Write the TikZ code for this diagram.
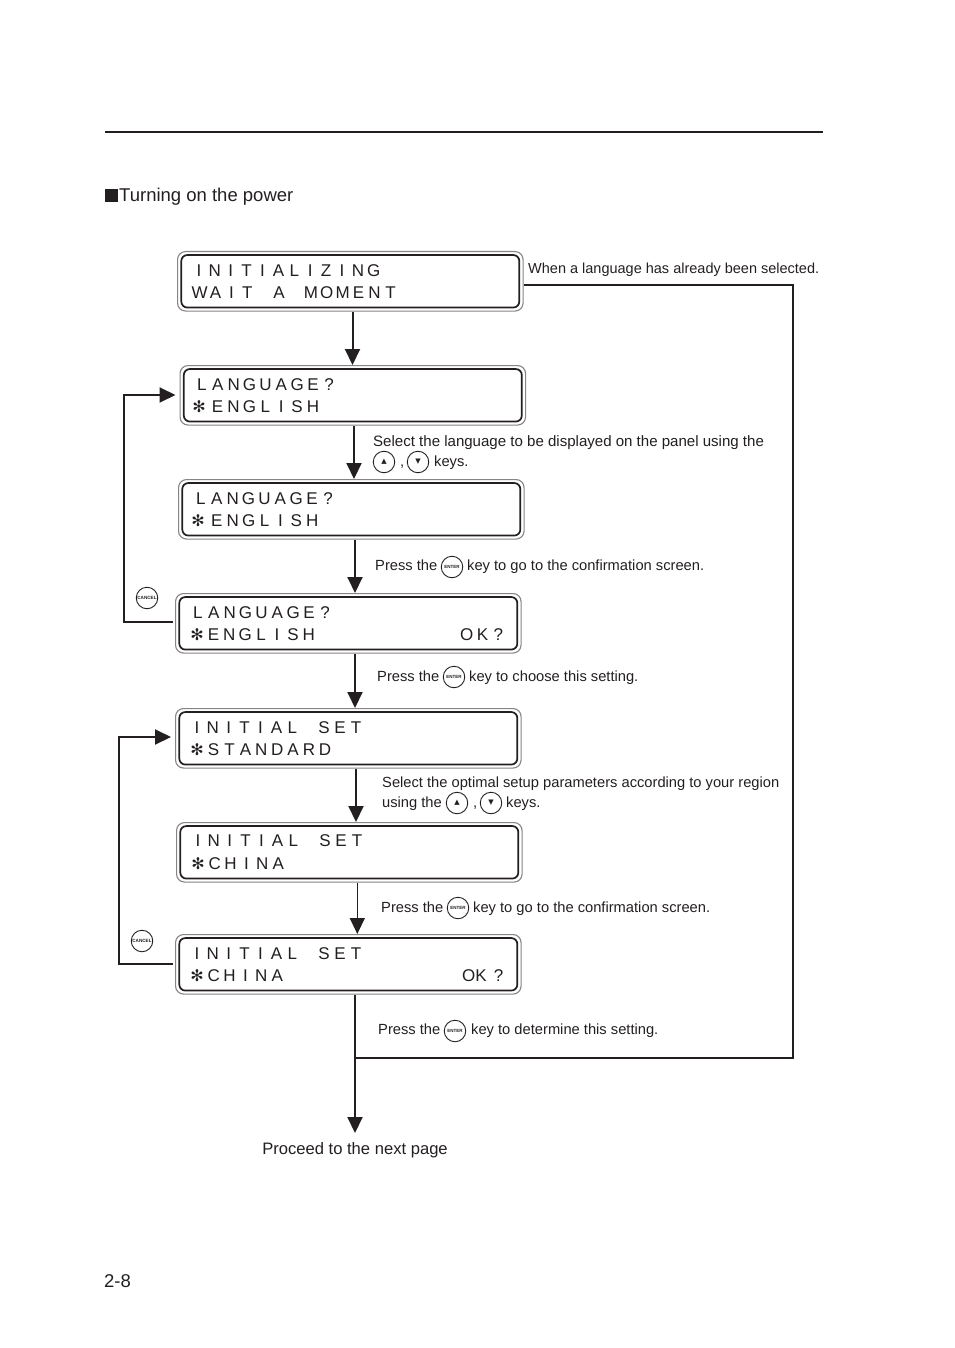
\documentclass[tikz,border=0pt]{standalone}
\usepackage{fontspec}
\setmainfont{Liberation Sans}
\newfontfamily\symfont{DejaVu Sans}
\usetikzlibrary{arrows.meta}
\definecolor{ink}{HTML}{231F20}
\def\lcdpitch{15.9pt}
\def\lcdchars#1{\ifx#1\relax\else\makebox[\lcdpitch]{#1}\expandafter\lcdchars\fi}
\tikzset{
  lcdouter/.style={draw=ink!55,line width=1.1pt,rounded corners=8pt,fill=white,
    minimum height=59.5pt,inner sep=0pt,anchor=north west},
  lcdinner/.style={draw=ink,line width=1.7pt,rounded corners=6pt,
    minimum height=52.5pt,inner sep=0pt},
  lcdtext/.style={font=\fontsize{17pt}{20pt}\selectfont,text=ink,anchor=base west,inner sep=0pt},
  lcdstar/.style={font=\symfont\fontsize{16pt}{18pt}\selectfont,text=ink,inner sep=0pt},
  note/.style={font=\fontsize{14.7pt}{17pt}\selectfont,text=ink,anchor=base west,inner sep=0pt},
  bigtext/.style={font=\fontsize{18.5pt}{20pt}\selectfont,text=ink,anchor=base west,inner sep=0pt},
  keybtn/.style={circle,draw=ink,line width=0.9pt,minimum size=21.5pt,inner sep=0pt,text=ink,fill=white},
  flow/.style={draw=ink,line width=2pt,-{Triangle[length=16pt,width=15pt]}},
  wire/.style={draw=ink,line width=2pt},
}
\begin{document}
\begin{tikzpicture}[x=1pt,y=-1pt]
  \useasboundingbox (0,0) rectangle (954,1348);
  % page furniture
  \coordinate (ruleL) at (105,132);
  \coordinate (ruleR) at (823,132);
  \draw[wire] (ruleL) -- (ruleR);
  \node[fill=ink,inner sep=0pt,minimum size=13pt] (bullet) at (111.5,195.5) {};
  \node[bigtext] (title) at (119,202) {Turning on the power};
  \node[bigtext] (pageno) at (104,1287) {2-8};
  % panels
  \foreach \pname/\px/\py in {p1/177/251,p2/179.5/365,p3/178/479,p4/175/593,p5/175/708,p6/176/822,p7/175/934}{%
    \node[lcdouter,minimum width=345.5pt] (\pname) at (\px,\py) {};
    \node[lcdinner,minimum width=338pt] (\pname in) at (\pname.center) {};
  }
  % panel texts
  \foreach \lname/\lx/\ly/\ltext in {%
    p1a/190.8/276.5/INITIALIZING,p1b/191.5/298.5/WAIT~A~MOMENT,
    p2a/193.7/390.5/LANGUAGE?,p2b/209.5/412.5/ENGLISH,
    p3a/192.7/504.5/LANGUAGE?,p3b/208.7/526.5/ENGLISH,
    p4a/189.7/618.5/LANGUAGE?,p4b/205.3/640.5/ENGLISH,p4c/458.5/640.5/OK?,
    p5a/188.8/733.5/INITIAL~SET,p5b/205.5/755.5/STANDARD,
    p6a/189.8/846.5/INITIAL~SET,p6b/206.5/869.5/CHINA,
    p7a/188.8/959.5/INITIAL~SET,p7b/205.5/981.5/CHINA}{%
    \node[lcdtext] (\lname) at (\lx,\ly) {\expandafter\lcdchars\ltext\relax};
  }
  \node[lcdtext] (p7c) at (462,981.5) {OK\hspace{7pt}?};
  \foreach \sname/\sx/\sy in {s2/199/407,s3/198/521,s4/197/635,s5/197/750,s6/198/864,s7/197/976}{%
    \node[lcdstar] (\sname) at (\sx,\sy) {✻};
  }
  % notes
  \node[note,font=\fontsize{14.5pt}{17pt}\selectfont] (nwhen) at (528,273) {When a language has already been selected.};
  \node[note,font=\fontsize{15.05pt}{17pt}\selectfont] (nsel) at (373,446) {Select the language to be displayed on the panel using the};
  \node[note] (ncomA) at (400,466) {,};
  \node[note] (nkeysA) at (434,466) {keys.};
  \node[note] (npressA) at (375,570) {Press the};
  \node[note] (nconfA) at (467,570) {key to go to the confirmation screen.};
  \node[note] (npressB) at (377,681) {Press the};
  \node[note] (nchoose) at (469,681) {key to choose this setting.};
  \node[note] (nopt) at (382,787) {Select the optimal setup parameters according to your region};
  \node[note] (nusing) at (382,807) {using the};
  \node[note] (ncomB) at (473,807) {,};
  \node[note] (nkeysB) at (506,807) {keys.};
  \node[note] (npressC) at (381,912) {Press the};
  \node[note] (nconfB) at (473,912) {key to go to the confirmation screen.};
  \node[note] (npressD) at (378,1034) {Press the};
  \node[note] (ndet) at (471,1034) {key to determine this setting.};
  \node[font=\fontsize{16.6pt}{20pt}\selectfont,text=ink,anchor=base,inner sep=0pt] (proceed) at (355,1154) {Proceed to the next page};
  % keys
  \foreach \kname/\kx/\ky in {upA/384/462,upB/457/803}{%
    \node[keybtn,font=\symfont\fontsize{7pt}{7pt}\selectfont] (\kname) at (\kx,\ky) {▲};
  }
  \foreach \kname/\kx/\ky in {dnA/418/462,dnB/491/803}{%
    \node[keybtn,font=\symfont\fontsize{7pt}{7pt}\selectfont] (\kname) at (\kx,\ky) {▼};
  }
  \foreach \kname/\kx/\ky in {entA/452/567,entB/454/677,entC/458/908,entD/455/1031}{%
    \node[keybtn,font=\bfseries\fontsize{4.5pt}{4.5pt}\selectfont] (\kname) at (\kx,\ky) {ENTER};
  }
  \foreach \kname/\kx/\ky in {canA/147/598,canB/142/941}{%
    \node[keybtn,font=\bfseries\fontsize{4.6pt}{5pt}\selectfont] (\kname) at (\kx,\ky) {CANCEL};
  }
  % connectors
  \coordinate (colA) at (352.5,0);
  \coordinate (colB) at (354,0);
  \coordinate (colC) at (355,0);
  \coordinate (colD) at (356,0);
  \coordinate (colE) at (357.3,0);
  \draw[flow] (p1.south -| colA) -- (p2.north -| colA);
  \draw[flow] (p2.south -| colB) -- (p3.north -| colB);
  \draw[flow] (p3.south -| colC) -- (p4.north -| colC);
  \draw[flow] (p4.south -| colC) -- (p5.north -| colC);
  \draw[flow] (p5.south -| colD) -- (p6.north -| colD);
  \draw[flow,line width=1.4pt] (p6.south -| colE) -- (p7.north -| colE);
  \coordinate (joinpt) at (355,1058);
  \coordinate (nextpt) at (355,1133);
  \coordinate (cornerR) at (793,285);
  \draw[flow] (p7.south -| nextpt) -- (nextpt);
  \draw[wire] (p1.east |- cornerR) -- (cornerR) |- (joinpt);
  \coordinate (backA) at (124,622);
  \coordinate (backB) at (119,964);
  \draw[flow,shorten <=2pt,shorten >=4pt] (p4.west |- backA) -- (backA) |- (p2.west |- 0,395);
  \draw[flow,shorten <=2pt,shorten >=4pt] (p7.west |- backB) -- (backB) |- (p5.west |- 0,737);
\end{tikzpicture}
\end{document}
